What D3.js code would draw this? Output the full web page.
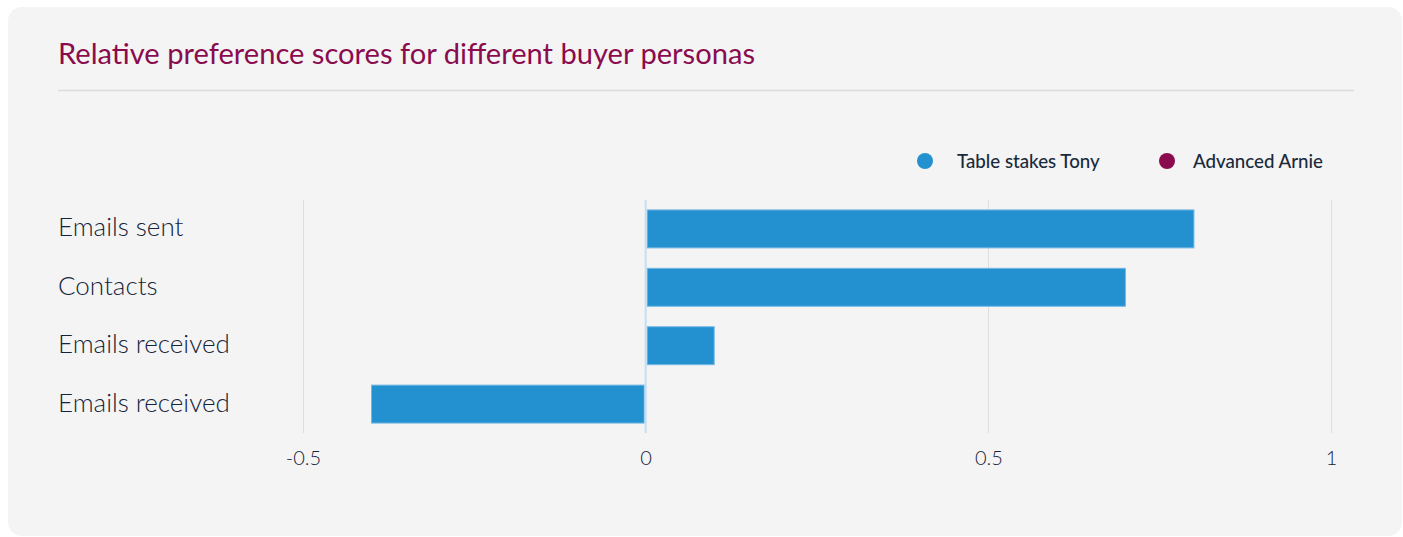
<!DOCTYPE html>
<html>
<head>
<meta charset="utf-8">
<script src="https://cdn.jsdelivr.net/npm/d3@7/dist/d3.min.js"></script>
<style>
  html, body { margin: 0; padding: 0; background: #ffffff; }
  body { width: 1403px; height: 537px; overflow: hidden; font-family: Lato, "Noto Sans", sans-serif; }
</style>
</head>
<body>
<svg id="chart" width="1403" height="537"></svg>
<script>
const title = "Relative preference scores for different buyer personas";
const categories = ["Emails sent", "Contacts", "Emails received", "Emails received "];
const tonyValues = [0.80, 0.70, 0.10, -0.40];
const seriesNames = ["Table stakes Tony", "Advanced Arnie"];
const seriesColors = ["#2391d0", "#8a0c4e"];
const tickValues = [-0.5, 0, 0.5, 1];
const tickLabels = ["-0.5", "0", "0.5", "1"];

const svg = d3.select("#chart");

// card
svg.append("rect")
  .attr("x", 8).attr("y", 7).attr("width", 1394).attr("height", 529)
  .attr("rx", 14).attr("ry", 14).attr("fill", "#f4f4f4");

// title
svg.append("text")
  .attr("x", 58).attr("y", 64)
  .attr("font-size", 29).attr("fill", "#8a0c4e")
  .attr("font-family", "Lato")
  .attr("textLength", 697).attr("lengthAdjust", "spacingAndGlyphs")
  .text(title);

svg.append("line")
  .attr("x1", 58).attr("x2", 1354).attr("y1", 90.5).attr("y2", 90.5)
  .attr("stroke", "#dcdcdc").attr("stroke-width", 1.5);

// legend
const legendX = [925, 1167];
const legendTextX = [957, 1193];
seriesNames.forEach((name, i) => {
  svg.append("circle").attr("cx", legendX[i]).attr("cy", 161).attr("r", 8).attr("fill", seriesColors[i]);
  svg.append("text").attr("x", legendTextX[i]).attr("y", 167.5)
    .attr("font-size", 18.7).attr("font-weight", 500).attr("fill", "#1a2a3c")
    .text(name);
});

// scales
const x = d3.scaleLinear().domain([-0.5, 1]).range([303, 1331]);
const y = d3.scaleBand().domain(categories).range([200, 433]).paddingInner(0.35).paddingOuter(0.17);

const g = svg.append("g");

// grid
g.selectAll("line.grid").data(tickValues.filter(d => d !== 0)).enter().append("line")
  .attr("class", "grid")
  .attr("x1", d => Math.round(x(d)) + 0.5).attr("x2", d => Math.round(x(d)) + 0.5)
  .attr("y1", 200).attr("y2", 433)
  .attr("stroke", "#dedede").attr("stroke-width", 1);

// bars
g.selectAll("rect.bar").data(categories).enter().append("rect")
  .attr("class", "bar")
  .attr("x", (d, i) => Math.min(x(0), x(tonyValues[i])) + (tonyValues[i] >= 0 ? 1.5 : 0))
  .attr("width", (d, i) => Math.abs(x(tonyValues[i]) - x(0)) - 1.5)
  .attr("y", d => y(d))
  .attr("height", y.bandwidth())
  .attr("fill", seriesColors[0])
  .attr("stroke", "#73b7e3").attr("stroke-width", 1);

// zero line
g.append("line")
  .attr("x1", x(0)).attr("x2", x(0)).attr("y1", 200).attr("y2", 433)
  .attr("stroke", "#c4dff4").attr("stroke-width", 2);

// category labels
g.selectAll("text.cat").data(categories).enter().append("text")
  .attr("class", "cat")
  .attr("x", 58).attr("y", d => y(d) + y.bandwidth() / 2 + 7.5)
  .attr("font-size", 26).attr("font-weight", 300).attr("fill", "#14243a")
  .text(d => d.trim());

// x axis tick labels
const xAxis = d3.axisBottom(x).tickValues(tickValues).tickFormat((d, i) => tickLabels[i]).tickSize(0).tickPadding(0);
const ax = svg.append("g").attr("transform", "translate(0,451)").call(xAxis);
ax.select(".domain").remove();
ax.selectAll("text").attr("font-size", 20).attr("font-family", "Lato").attr("font-weight", 300).attr("fill", "#14243a").attr("dy", "0.71em");
</script>
</body>
</html>
